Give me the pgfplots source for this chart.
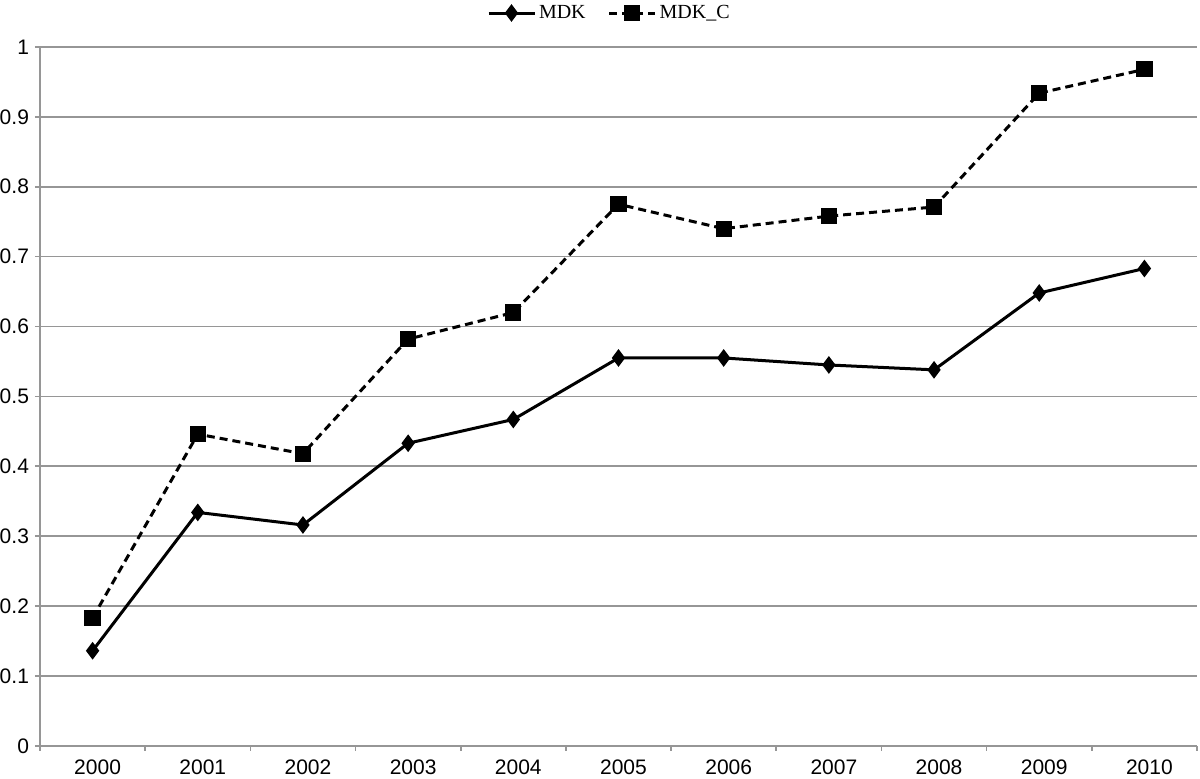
\documentclass[border=0pt]{standalone}
\usepackage{pgfplots}
\pgfplotsset{compat=1.18}
\usepackage{fontspec}
\setmainfont{Liberation Sans}
\newfontfamily\legendfont{Liberation Serif}
\definecolor{gridgray}{RGB}{150,150,150}
\begin{document}
\begin{tikzpicture}
\begin{axis}[
  name=ax,
  scale only axis,
  width=578.5pt, height=349.4pt,
  xmin=-0.5, xmax=10.5,
  ymin=0, ymax=1,
  axis lines*=left,
  axis line style={gridgray, line width=0.8pt},
  xtick={0,...,10},
  xticklabels={2000,2001,2002,2003,2004,2005,2006,2007,2008,2009,2010},
  minor xtick={-0.5,0.5,...,10.5},
  major x tick style={draw=none},
  minor x tick style={gridgray, line width=0.8pt},
  minor tick length=2.5pt,
  ytick={0,0.1,...,1.01},
  yticklabels={0,0.1,0.2,0.3,0.4,0.5,0.6,0.7,0.8,0.9,1},
  y tick style={gridgray, line width=0.8pt},
  major tick length=2.5pt,
  tick align=outside,
  ymajorgrids,
  grid style={gridgray, line width=0.8pt},
  ticklabel style={font=\fontsize{10.5}{12}\selectfont},
  /pgf/number format/assume math mode=true,
  yticklabel style={xshift=0.5pt},
  xticklabel style={xshift=2.5pt, yshift=-1pt},
  legend columns=2,
  legend style={at={(0,1)}, anchor=west, xshift=223.5pt, yshift=17pt, draw=none, fill=none,
    inner sep=0pt, outer sep=0pt, column sep=0pt,
    nodes={inner sep=0pt},
    font=\legendfont\fontsize{10}{12}\selectfont,
    /tikz/every odd column/.append style={column sep=1.5pt},
    /tikz/every even column/.append style={column sep=11pt}},
  legend image code/.code={\draw[#1] (0pt,0pt) -- (23pt,0pt); \draw[#1, solid] plot coordinates {(11.5pt,0pt)};},
  clip=false,
]
\addplot[black, line width=1.5pt, mark=diamond*, mark size=3.2pt, mark options={solid}]
coordinates {(0,0.136)(1,0.334)(2,0.316)(3,0.433)(4,0.467)(5,0.555)(6,0.555)(7,0.545)(8,0.538)(9,0.648)(10,0.683)};
\addlegendentry{MDK}
\addplot[black, line width=1.5pt, dash pattern=on 4pt off 2.5pt, mark=square*, mark size=3.3pt, mark options={solid}]
coordinates {(0,0.183)(1,0.446)(2,0.418)(3,0.582)(4,0.620)(5,0.775)(6,0.740)(7,0.758)(8,0.771)(9,0.934)(10,0.968)};
\addlegendentry{MDK\_C}
\end{axis}
\pgfresetboundingbox
\useasboundingbox ([xshift=-20pt,yshift=-16.15pt]ax.south west) rectangle ([xshift=1.5pt,yshift=23.5pt]ax.north east);
\end{tikzpicture}
\end{document}
